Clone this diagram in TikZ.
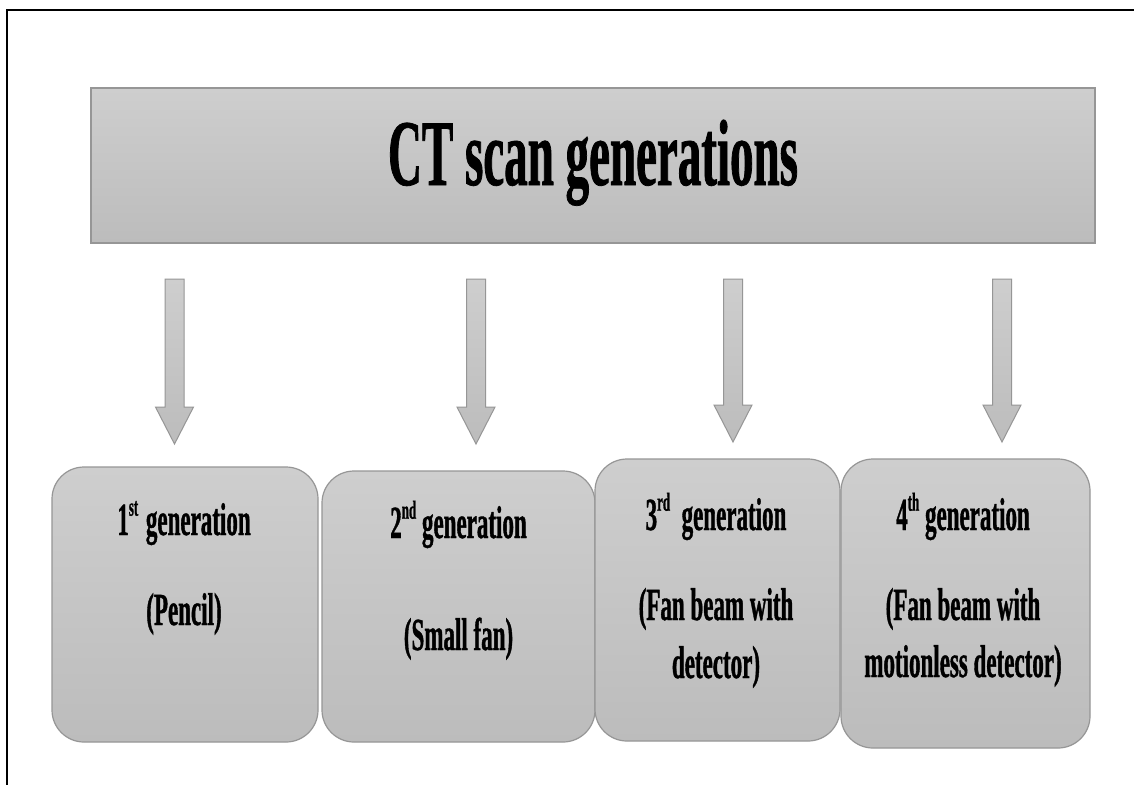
\documentclass[tikz,border=0pt]{standalone}
\usepackage{fontspec}
\newfontfamily\cf{Liberation Serif}[FakeStretch=0.5,FakeBold=0.8]
\usetikzlibrary{calc}
\definecolor{bordergray}{RGB}{150,150,150}
\definecolor{topg}{RGB}{206,206,206}
\definecolor{botg}{RGB}{188,188,188}
\newcommand{\supx}[1]{\raisebox{0.42em}{\fontsize{26}{26}\selectfont #1}}
\begin{document}
\begin{tikzpicture}[x=1pt,y=-1pt,
  boxshade/.style={draw=bordergray, line width=1.2pt, top color=topg, bottom color=botg},
  genbox/.style={boxshade, rounded corners=32pt, inner sep=0pt},
  lbl/.style={font=\cf\bfseries\fontsize{46}{50}\selectfont, anchor=base, inner sep=0pt},
  ttl/.style={font=\cf\bfseries\fontsize{94}{100}\selectfont, anchor=base, inner sep=0pt},
  blockarr/.style={boxshade, line width=1pt, to path={let \p1=(\tikztostart), \p2=(\tikztotarget) in
    (\x1-9.5pt,\y1) -- (\x1+9.5pt,\y1) -- (\x1+9.5pt,\y2+37pt) -- (\x1+19pt,\y2+37pt)
    -- (\x1,\y2) -- (\x1-19pt,\y2+37pt) -- (\x1-9.5pt,\y2+37pt) -- cycle}}
]
\useasboundingbox (0,0) rectangle (1134,785);
\fill[white] (0,0) rectangle (1134,785);
% frame
\draw[line width=2pt] (1134,10) -- (7,10) -- (7,785);

% header
\node[boxshade, minimum width=1004pt, minimum height=155pt, inner sep=0pt] (hdr) at (593,165.5) {};
\node[ttl] (title) at (593,185) {CT scan generations};

% generation boxes
\node[genbox, minimum width=266pt, minimum height=275pt] (g1) at (185,604.5) {};
\node[genbox, minimum width=273pt, minimum height=271pt] (g2) at (458.5,606.5) {};
\node[genbox, minimum width=245pt, minimum height=282pt] (g3) at (717.5,600) {};
\node[genbox, minimum width=249pt, minimum height=289pt] (g4) at (965.5,603.5) {};

% arrows
\coordinate (a1s) at (174.5,279); \coordinate (a1e) at (174.5,444);
\coordinate (a2s) at (476,279);   \coordinate (a2e) at (476,444);
\coordinate (a3s) at (733,279);   \coordinate (a3e) at (733,442);
\coordinate (a4s) at (1002,279);  \coordinate (a4e) at (1002,442);
\draw[blockarr] (a1s) to (a1e);
\draw[blockarr] (a2s) to (a2e);
\draw[blockarr] (a3s) to (a3e);
\draw[blockarr] (a4s) to (a4e);

% labels
\node[lbl] (t1a) at (184,535) {1\supx{st}\,generation};
\node[lbl] (t1b) at (184,625) {(Pencil)};
\node[lbl] (t2a) at (458.5,538) {2\supx{nd} generation};
\node[lbl] (t2b) at (458.5,650) {(Small fan)};
\node[lbl] (t3a) at (716,530) {3\supx{rd}\ \ generation};
\node[lbl] (t3b) at (716,620) {(Fan beam with};
\node[lbl] (t3c) at (716,678) {detector)};
\node[lbl] (t4a) at (963,530) {4\supx{th} generation};
\node[lbl] (t4b) at (963,620) {(Fan beam with};
\node[lbl] (t4c) at (963,677) {motionless detector)};
\end{tikzpicture}
\end{document}
